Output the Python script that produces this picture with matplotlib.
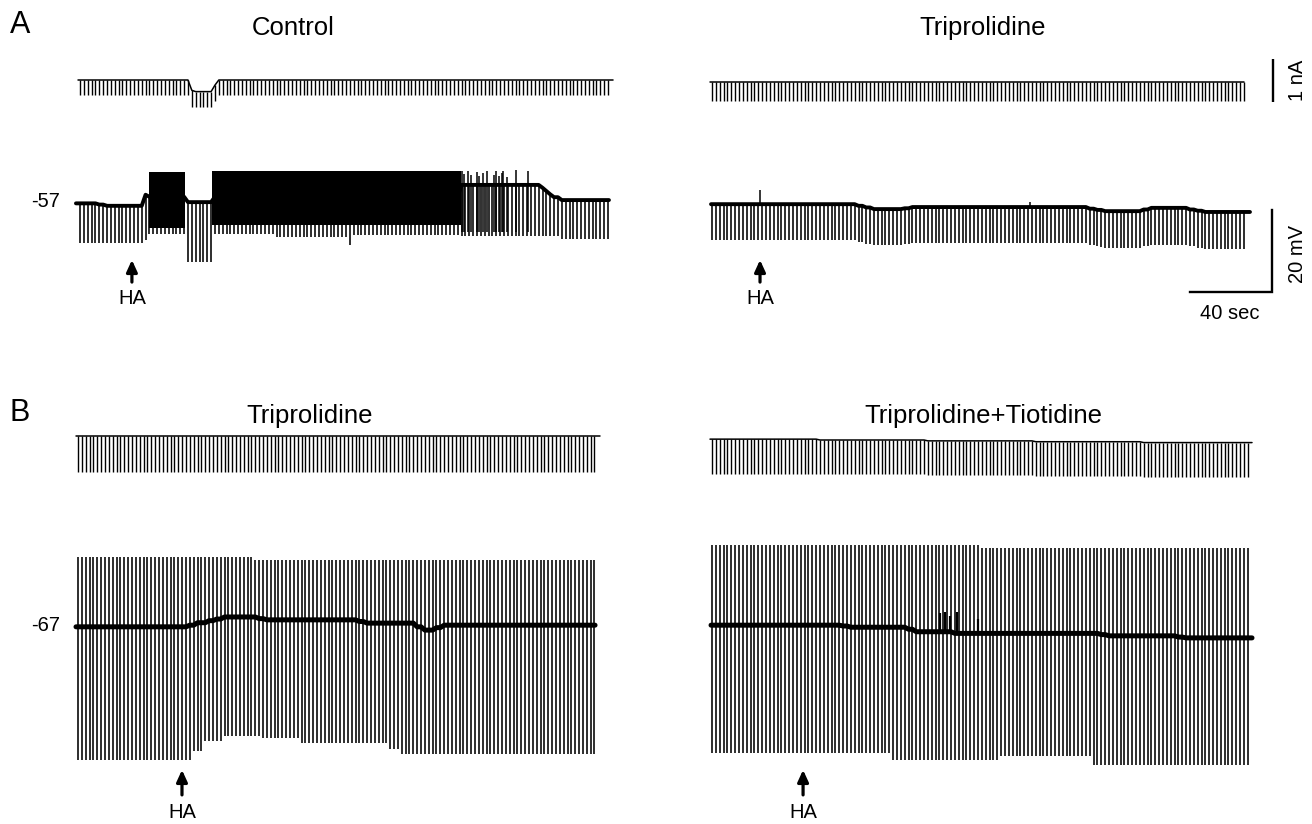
import numpy as np
import matplotlib
matplotlib.use("Agg")
import matplotlib.pyplot as plt

plt.rcParams['font.family'] = ['Liberation Sans', 'DejaVu Sans']

# ---------------------------------------------------------------- recording data
# Every trace is a train of brief current pulses; the values below are given per
# pulse as run-length lists of (number of pulses, value).
PULSE_PERIOD = 1.88      # s between pulses
FIRST_PULSE = 1.0        # s

# A, control cell: holding current (nA) and membrane potential (mV)
ctrl_i_base = [(29, 0.0), (1, -0.24), (5, -0.27), (1, -0.12), (102, 0.0)]
ctrl_i_tip = [(29, -0.35), (6, -0.62), (1, -0.48), (102, -0.35)]
ctrl_v_base = [(5, -56.6), (2, -56.9), (10, -57.2), (1, -54.5), (10, -55.0), (7, -56.3),
               (64, -55.0), (21, -52.1), (1, -52.8), (1, -53.6), (1, -54.4),
               (2, -55.1), (13, -55.8)]
ctrl_v_tip = [(17, -66.3), (1, -65.5), (10, -64.0), (7, -70.9), (16, -64.0),
              (19, -64.8), (1, -66.8), (28, -64.3), (26, -64.6), (13, -65.2)]
ctrl_burst_start = [34.6, 65.4]
ctrl_burst_end = [52.2, 186.8]
ctrl_burst_peak = [-48.9, -48.7]
ctrl_burst_trough = [-62.6, -61.9]
ctrl_spike_t = [187.2, 188.3, 190.2, 191.7, 194.6, 195.6, 197.6, 199.5,
                202.9, 203.9, 205.4, 206.8, 207.3, 209.3, 213.7, 219.5]
ctrl_spike_peak = [-48.8, -49.5, -48.6, -49.8, -48.9, -50.0, -49.2, -48.7,
                   -49.6, -48.8, -49.9, -49.3, -48.6, -50.2, -48.5, -48.7]
ctrl_spike_trough = -63.5
ctrl_ha_t = 26.3

# A, triprolidine
trip_i_base = [(139, 0.0)]
trip_i_tip = [(139, -0.44)]
trip_v_base = [(38, -56.8), (2, -57.2), (2, -57.6), (8, -58.0), (2, -57.8), (46, -57.5),
               (2, -57.9), (2, -58.2), (10, -58.5), (2, -58.1), (10, -57.7),
               (2, -58.1), (2, -58.4), (11, -58.7)]
trip_v_step = [(101, 8.8), (38, 9.0)]          # pulse amplitude, mV
trip_spike_t = [24.4, 156.1]
trip_spike_peak = [-53.3, -56.2]
trip_ha_t = 24.4

# B, triprolidine
btrip_i_base = [(135, 0.0)]
btrip_i_tip = [(135, -0.84)]
btrip_v_base = [(29, -67.2), (2, -66.8), (3, -66.2), (2, -65.7), (2, -65.3), (9, -64.8),
                (2, -65.2), (24, -65.5), (2, -65.9), (13, -66.3), (2, -67.2),
                (3, -68.0), (2, -67.4), (40, -66.8)]
btrip_v_top = [(46, -50.2), (89, -50.8)]
btrip_v_bottom = [(30, -99.7), (3, -97.5), (5, -95.0), (10, -93.8), (10, -94.3),
                  (23, -95.6), (3, -97.0), (51, -98.3)]
btrip_ha_t = 51.7

# B, triprolidine + tiotidine
btt_i_base = [(28, 0.02), (28, 0.0), (28, -0.02), (28, -0.04), (28, -0.06)]
btt_i_step = [(140, 0.80)]                     # pulse amplitude, nA
btt_v_base = [(34, -66.8), (2, -67.0), (15, -67.3), (2, -67.8), (10, -68.4),
              (38, -68.8), (2, -69.1), (18, -69.4), (2, -69.7), (17, -69.9)]
btt_v_top = [(70, -47.2), (70, -48.0)]
btt_v_bottom = [(47, -97.9), (28, -99.6), (24, -98.8), (41, -100.9)]
btt_spike_t = [112.2, 114.6, 117.1, 120.5, 130.7]
btt_spike_peak = [-63.8, -63.5, -64.5, -63.6, -65.2]
btt_ha_t = 45.4

# calibration bars
cal_current_na = 1.0
cal_voltage_mv = 20.0
cal_time_s = 40.0

# ---------------------------------------------------------------- layout
W, H = 1312, 824
PX_PER_S = 2.05
PX_PER_MV = 4.1
PX_PER_NA = 43.0
LABEL_SIZE = 14.5
TITLE_SIZE = 18.5

fig = plt.figure(figsize=(W / 100, H / 100), dpi=100)
fig.patch.set_facecolor('white')


def expand(runs):
    return np.concatenate([np.full(n, float(v)) for n, v in runs])


def pulse_times(n):
    return FIRST_PULSE + PULSE_PERIOD * np.arange(n)


def trace_axes(box, origin_px, ref_px, ref_val, ppu):
    x0, y0, x1, y1 = box
    ax = fig.add_axes([x0 / W, 1 - y1 / H, (x1 - x0) / W, (y1 - y0) / H])
    ax.set_xlim((x0 - origin_px) / PX_PER_S, (x1 - origin_px) / PX_PER_S)
    ax.set_ylim(ref_val - (y1 - ref_px) / ppu, ref_val + (ref_px - y0) / ppu)
    ax.axis('off')
    return ax


def fig_text(x, y, s, **kw):
    fig.text(x / W, 1 - y / H, s, **kw)


def base_line(ax, t, base, t_start, t_end, lw):
    ax.plot(np.r_[t_start, t, t_end], np.r_[base[0], base, base[-1]],
            color='k', lw=lw, solid_capstyle='round', solid_joinstyle='round')


def draw_current(ax, base, tip, t_end):
    t = pulse_times(len(base))
    ax.vlines(t, tip, base, color='k', lw=1.0)
    base_line(ax, t, base, 0.0, t_end, 1.1)


def draw_voltage_down(ax, base, tip, t_start, t_end, lw_base):
    t = pulse_times(len(base))
    ax.vlines(t, tip, base, color='k', lw=1.15)
    base_line(ax, t, base, t_start, t_end, lw_base)


def draw_voltage_both(ax, base_runs, top_runs, bottom_runs, t_start, t_end, lw_base):
    base = expand(base_runs)
    top = expand(top_runs)
    bottom = expand(bottom_runs)
    t = pulse_times(len(base))
    ax.vlines(t, bottom, top, color='k', lw=1.15)
    base_line(ax, t, base, t_start, t_end, lw_base)


def ha_arrow(ax, t, tip, tail, label_y):
    ax.annotate('', xy=(t, tip), xytext=(t, tail), annotation_clip=False,
                arrowprops=dict(arrowstyle='-|>,head_length=0.7,head_width=0.32',
                                lw=2.3, color='k', shrinkA=0, shrinkB=0,
                                mutation_scale=10))
    ax.text(t, label_y, 'HA', ha='center', va='center', fontsize=LABEL_SIZE,
            clip_on=False)


# ---------------------------------------------------------------- panel A, control
ax = trace_axes((0, 50, 656, 140), 78, 80, 0.0, PX_PER_NA)
draw_current(ax, expand(ctrl_i_base), expand(ctrl_i_tip), 261.0)

ax = trace_axes((0, 140, 656, 330), 78, 205, -57.0, PX_PER_MV)
for s, e, pk, tr in zip(ctrl_burst_start, ctrl_burst_end, ctrl_burst_peak, ctrl_burst_trough):
    ax.fill_between([s, e], tr, pk, color='k', lw=0)
draw_voltage_down(ax, expand(ctrl_v_base), expand(ctrl_v_tip), -1.0, 259.0, 2.8)
ax.vlines(ctrl_spike_t, ctrl_spike_trough, ctrl_spike_peak, color='k', lw=1.1)
ax.text(-8.8, -56.1, '-57', ha='right', va='center', fontsize=LABEL_SIZE, clip_on=False)
ha_arrow(ax, ctrl_ha_t, -70.4, -75.8, -79.9)

# ---------------------------------------------------------------- panel A, triprolidine
ax = trace_axes((656, 50, 1312, 140), 710, 82, 0.0, PX_PER_NA)
draw_current(ax, expand(trip_i_base), expand(trip_i_tip), 260.5)
# 1 nA calibration
ax.plot([274.6, 274.6], [-0.47, -0.47 + cal_current_na], color='k', lw=1.7,
        clip_on=False, solid_capstyle='butt')
ax.text(286.8, 0.03, '1 nA', rotation=90, ha='center', va='center',
        fontsize=LABEL_SIZE, clip_on=False)

ax = trace_axes((656, 140, 1312, 330), 710, 205, -57.0, PX_PER_MV)
trip_base = expand(trip_v_base)
draw_voltage_down(ax, trip_base, trip_base - expand(trip_v_step), 0.5, 263.4, 2.8)
base_at_spike = [-56.8, -57.5]
ax.vlines(trip_spike_t, base_at_spike, trip_spike_peak, color='k', lw=1.1)
ha_arrow(ax, trip_ha_t, -70.4, -75.8, -79.9)
# 20 mV / 40 sec calibration
ax.plot([274.1 - cal_time_s, 274.1, 274.1],
        [-78.2, -78.2, -78.2 + cal_voltage_mv], color='k', lw=1.7,
        clip_on=False, solid_joinstyle='miter')
ax.text(286.8, -69.0, '20 mV', rotation=90, ha='center', va='center',
        fontsize=LABEL_SIZE, clip_on=False)
ax.text(253.7, -83.4, '40 sec', ha='center', va='center', fontsize=LABEL_SIZE,
        clip_on=False)

# ---------------------------------------------------------------- panel B, triprolidine
ax = trace_axes((0, 420, 656, 500), 76, 436, 0.0, PX_PER_NA)
draw_current(ax, expand(btrip_i_base), expand(btrip_i_tip), 255.6)

ax = trace_axes((0, 500, 656, 824), 76, 626, -67.0, PX_PER_MV)
draw_voltage_both(ax, btrip_v_base, btrip_v_top, btrip_v_bottom, 0.0, 253.2, 3.6)
ax.text(-7.8, -66.8, '-67', ha='right', va='center', fontsize=LABEL_SIZE, clip_on=False)
ha_arrow(ax, btrip_ha_t, -102.1, -108.2, -112.6)

# ---------------------------------------------------------------- panel B, triprolidine + tiotidine
ax = trace_axes((656, 420, 1312, 500), 710, 440, 0.0, PX_PER_NA)
btt_base = expand(btt_i_base)
draw_current(ax, btt_base, btt_base - expand(btt_i_step), 264.4)

ax = trace_axes((656, 500, 1312, 824), 710, 626, -67.0, PX_PER_MV)
draw_voltage_both(ax, btt_v_base, btt_v_top, btt_v_bottom, 0.5, 264.4, 3.6)
base_at_spikes = [-68.4, -68.4, -68.4, -68.6, -68.8]
ax.vlines(btt_spike_t, base_at_spikes, btt_spike_peak, color='k', lw=1.6)
ha_arrow(ax, btt_ha_t, -102.1, -108.2, -112.6)

# ---------------------------------------------------------------- headings
fig_text(10, 25, 'A', fontsize=22, ha='left', va='center')
fig_text(10, 413, 'B', fontsize=22, ha='left', va='center')
fig_text(293, 28, 'Control', fontsize=TITLE_SIZE, ha='center', va='center')
fig_text(983, 28, 'Triprolidine', fontsize=TITLE_SIZE, ha='center', va='center')
fig_text(310, 416, 'Triprolidine', fontsize=TITLE_SIZE, ha='center', va='center')
fig_text(983, 416, 'Triprolidine+Tiotidine', fontsize=TITLE_SIZE, ha='center', va='center')

fig.savefig('out.png', dpi=100, facecolor='white')
